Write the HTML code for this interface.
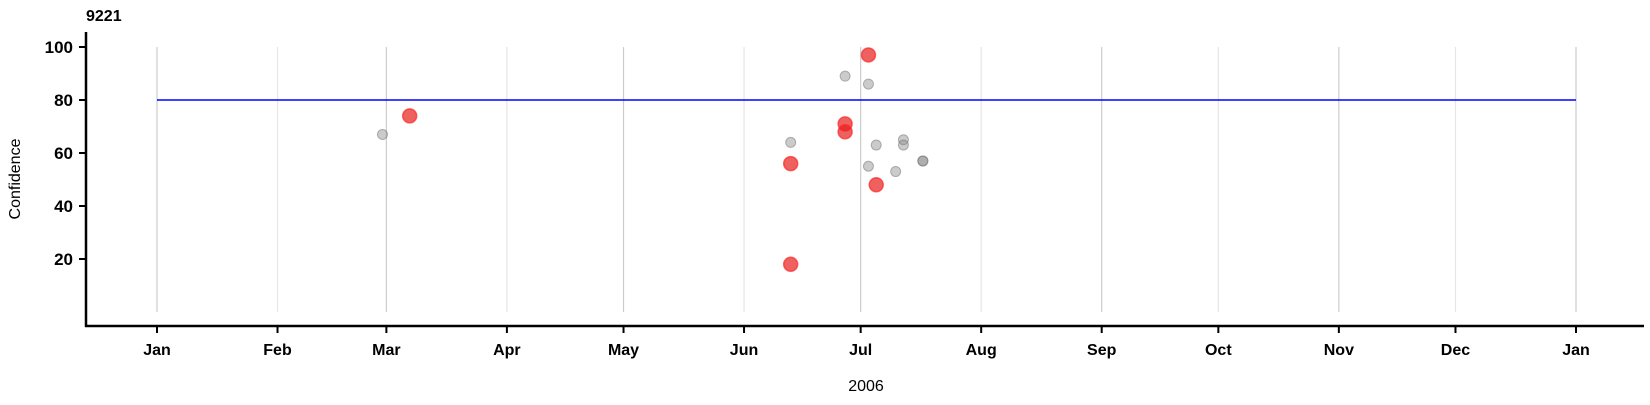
<!DOCTYPE html>
<html><head><meta charset="utf-8"><style>
body{margin:0;background:#fff;}
svg text{font-family:"Liberation Sans",Arial,sans-serif;}
</style></head><body>
<svg id="chart" width="1650" height="400" xmlns="http://www.w3.org/2000/svg">
<text x="86" y="21" font-size="16" font-weight="bold">9221</text>
<g id="grid"></g>
<g id="axes"></g>
<g id="marks"></g>
<text x="866" y="391" font-size="16" text-anchor="middle">2006</text>
<text transform="translate(20,179) rotate(-90)" font-size="16" text-anchor="middle">Confidence</text>
</svg>
<script>
const monthLabels=["Jan","Feb","Mar","Apr","May","Jun","Jul","Aug","Sep","Oct","Nov","Dec","Jan"];
const yTicks=[20,40,60,80,100];
const threshold=80;
const greyDates=["2006-02-28","2006-06-13","2006-06-27","2006-07-03","2006-07-03","2006-07-05","2006-07-12","2006-07-12","2006-07-10","2006-07-17","2006-07-17"];
const greyValues=[67,64,89,86,55,63,65,63,53,57,57];
const redDates=["2006-03-07","2006-06-13","2006-06-13","2006-06-27","2006-06-27","2006-07-03","2006-07-05"];
const redValues=[74,56,18,71,68,97,48];
const NS="http://www.w3.org/2000/svg";
const t0=Date.UTC(2006,0,1),t1=Date.UTC(2007,0,1);
function xs(d){const t=(typeof d==="number")?d:Date.parse(d+"T00:00:00Z");return 157+(t-t0)/(t1-t0)*(1576-157);}
function ys(v){return 312-v*(312-47)/100;}
function mk(tag,attrs,parent){const e=document.createElementNS(NS,tag);for(const k in attrs)e.setAttribute(k,attrs[k]);parent.appendChild(e);return e;}
const grid=document.getElementById('grid'),axes=document.getElementById('axes'),marks=document.getElementById('marks');
monthLabels.forEach((m,i)=>{
  const t=Date.UTC(2006,i,1);const x=xs(t);
  const g=mk('line',{x1:x,x2:x,y1:47,y2:312,stroke:(i%2===0)?'#cccccc':'#e6e6e6','stroke-width':1.2},grid);
  
  
  const tk=mk('line',{x1:x,x2:x,y1:326,y2:333,stroke:'#000','stroke-width':2},axes);
  
  
  const lb=mk('text',{x:x,y:355,'font-size':16,'font-weight':'bold','text-anchor':'middle'},axes);
  lb.textContent=m;
  
  
});
yTicks.forEach(v=>{
  const y=ys(v);
  const tk=mk('line',{x1:79,x2:86,y1:y,y2:y,stroke:'#000','stroke-width':2},axes);
  
  
  const lb=mk('text',{x:73,y:y+6,'font-size':17,'font-weight':'bold','text-anchor':'end'},axes);
  lb.textContent=v;
  
  
});
const ya=mk('line',{x1:86,x2:86,y1:32,y2:327,stroke:'#000','stroke-width':2.5},axes);


const xa=mk('line',{x1:85,x2:1644,y1:326,y2:326,stroke:'#000','stroke-width':2.5},axes);


const th=mk('line',{x1:xs(t0),x2:xs(t1),y1:ys(threshold),y2:ys(threshold),stroke:'#0000ff','stroke-width':1.5},marks);


greyDates.forEach((d,i)=>{
  const c=mk('circle',{cx:xs(d),cy:ys(greyValues[i]),r:5,fill:'rgba(140,140,140,0.45)',stroke:'rgba(110,110,110,0.5)','stroke-width':1},marks);
  
  
});
redDates.forEach((d,i)=>{
  const c=mk('circle',{cx:xs(d),cy:ys(redValues[i]),r:7,fill:'rgba(230,30,30,0.7)',stroke:'rgba(255,40,40,0.7)','stroke-width':1.5},marks);
  
  
});
</script>
</body></html>
